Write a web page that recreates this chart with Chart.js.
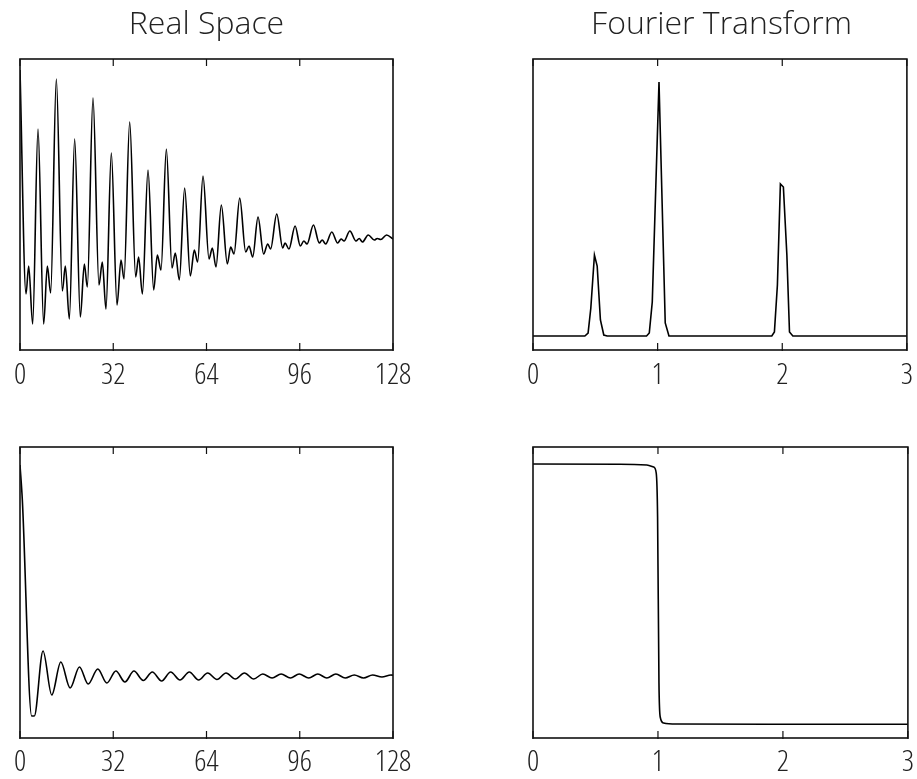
<!DOCTYPE html>
<html>
<head>
<meta charset="utf-8">
<script src="https://cdn.jsdelivr.net/npm/chart.js@4.4.1/dist/chart.umd.min.js"></script>
<style>
  body { margin: 0; background: #fff; width: 917px; height: 779px; overflow: hidden; position: relative; }
  .box { position: absolute; }
</style>
</head>
<body>
<div class="box" style="left:0;top:0;width:458px;height:407px"><canvas id="realTop"></canvas></div>
<div class="box" style="left:458px;top:0;width:462px;height:407px"><canvas id="fourierTop"></canvas></div>
<div class="box" style="left:0;top:400px;width:458px;height:387px"><canvas id="realBottom"></canvas></div>
<div class="box" style="left:458px;top:400px;width:462px;height:387px"><canvas id="fourierBottom"></canvas></div>
<script>
// tick labels
const realTicks = [0, 32, 64, 96, 128];
const fourierTicks = [0, 1, 2, 3];

// top left: decaying signal (arbitrary amplitude)
const realTopX = [0, 2.06, 2.98, 4.35, 6.18, 8.12, 9.38, 10.52, 12.47, 14.53, 15.56, 16.93, 18.76, 20.7, 22.08, 23.1,
  25.05, 27.1, 28.25, 29.5, 31.34, 33.29, 34.66, 35.69, 37.64, 39.7, 40.7, 42.0, 43.93, 45.87, 47.13, 48.39,
  50.22, 52.16, 53.3, 54.67, 56.5, 58.45, 59.82, 60.96, 62.8, 64.86, 66.0, 67.26, 69.09, 71.15, 72.3, 73.44,
  75.4, 77.45, 78.6, 79.85, 81.68, 83.6, 85.0, 86.0, 88.1, 90.15, 90.94, 92.3, 94.4, 96.2, 97.4, 98.5,
  100.7, 102.7, 103.7, 104.9, 107.0, 109.0, 110.2, 111.2, 113.2, 115.3, 116.4, 117.5, 119.5, 121.6, 122.6, 123.8,
  125.8, 128];
const realTopY = [280, 56, 84, 26, 221, 26, 84, 57, 271, 59, 84, 31, 211, 33, 86, 63,
  252, 65, 88, 41, 197, 45, 90, 71, 228, 73, 93, 56, 180, 60, 95, 80,
  201, 82, 97, 70, 162, 74, 100, 88, 174, 91, 102, 83, 145, 86, 103, 96,
  152, 98, 104, 93, 133, 96, 106, 101, 136, 102, 107, 101, 124, 104, 109, 106,
  125, 107, 110, 106, 118, 107, 111, 109, 119, 109, 111.5, 108, 115, 110, 111.5, 110.5,
  115, 111];

// bottom left
const realBottomX = [0, 0.8, 4.0, 4.9, 7.9, 10.9, 14.0, 17.2, 20.4, 23.4, 26.7, 29.8, 32.9, 36.0, 39.1, 42.3,
  45.4, 48.6, 51.7, 54.9, 58.1, 61.3, 64.4, 67.6, 70.7, 73.9, 77.0, 80.2, 83.3, 86.5, 89.6, 92.8,
  95.8, 99.1, 102.2, 105.3, 108.4, 111.6, 114.7, 117.9, 121.0, 124.2, 127.3, 128];
const realBottomY = [273, 238, 22, 22, 87, 43, 76, 50, 71, 54, 69, 55, 67, 56, 67, 57.5,
  66, 57, 66, 58, 66, 58, 65, 58.5, 65, 59, 65, 59, 64, 60, 64, 60,
  64, 60, 64, 60, 64, 60, 63, 60, 63, 61, 63, 62.8];

// top right: spectrum peaks
const fourierTopX = [0, 0.416, 0.442, 0.464, 0.493, 0.515, 0.541, 0.568, 0.595,
  0.911, 0.933, 0.957, 1.011, 1.061, 1.091,
  1.916, 1.937, 1.961, 1.985, 2.009, 2.037, 2.058, 2.085, 3];
const fourierTopY = [14, 14, 17, 42, 95, 84, 30, 15, 14,
  14, 17, 48, 268, 27, 14,
  14, 18, 65, 166, 163, 95, 18, 14, 14];

// bottom right: step
const fourierBottomX = [0, 0.697, 0.911, 0.965, 0.986, 0.997, 1.008, 1.018, 1.045, 1.153, 2.037, 3];
const fourierBottomY = [274, 273.7, 273, 271, 265, 221, 55, 21, 15, 14, 13.7, 13.7];

// thin lettering, the weight string also carries a stretch keyword into ctx.font
const labelFont = { family: "'Open Sans', sans-serif", size: 30, weight: '300 semi-condensed', lineHeight: 1.2 };
const titleFont = { family: "'Open Sans', sans-serif", size: 32, weight: '300', lineHeight: 1.2 };

// box around the plot plus inward tick marks on top and bottom
const framePlugin = {
  id: 'frame',
  afterDatasetsDraw(chart) {
    const a = chart.chartArea;
    const ctx = chart.ctx;
    const xs = chart.scales.x;
    ctx.save();
    ctx.strokeStyle = '#111';
    ctx.lineWidth = 1.6;
    ctx.strokeRect(a.left, a.top, a.right - a.left, a.bottom - a.top);
    ctx.lineWidth = 1.2;
    xs.ticks.forEach(t => {
      const px = xs.getPixelForValue(t.value);
      ctx.beginPath();
      ctx.moveTo(px, a.top);
      ctx.lineTo(px, a.top + 7);
      ctx.moveTo(px, a.bottom + 1);
      ctx.lineTo(px, a.bottom - 7);
      ctx.stroke();
    });
    ctx.restore();
  }
};

function makeChart(id, xVals, yVals, ticks, title, smooth, padding, tickPad) {
  const points = xVals.map((x, i) => ({ x: x, y: yVals[i] }));
  return new Chart(document.getElementById(id), {
    type: 'line',
    data: {
      datasets: [{
        data: points,
        borderColor: '#000',
        borderWidth: 1.6,
        pointRadius: 0,
        fill: false,
        cubicInterpolationMode: smooth ? 'monotone' : 'default',
        tension: 0
      }]
    },
    options: {
      responsive: true,
      maintainAspectRatio: false,
      animation: false,
      layout: { padding: padding },
      plugins: {
        legend: { display: false },
        tooltip: { enabled: false },
        title: {
          display: !!title,
          text: title,
          color: '#222',
          font: titleFont,
          padding: { top: 6, bottom: 14.6 }
        }
      },
      scales: {
        x: {
          type: 'linear',
          min: ticks[0],
          max: ticks[ticks.length - 1],
          afterBuildTicks: s => { s.ticks = ticks.map(v => ({ value: v })); },
          grid: { display: false, drawTicks: false },
          border: { display: false },
          ticks: { color: '#222', font: labelFont, padding: tickPad, maxRotation: 0, autoSkip: false }
        },
        y: { type: 'linear', display: false, min: 0, max: 291 }
      }
    },
    plugins: [framePlugin]
  });
}

makeChart('realTop', realTopX, realTopY, realTicks, 'Real Space', true, { left: 20, right: 65, top: 0, bottom: 7 }, 7);
makeChart('fourierTop', fourierTopX, fourierTopY, fourierTicks, 'Fourier Transform', false, { left: 75, right: 10, top: 0, bottom: 7 }, 7);
makeChart('realBottom', realBottomX, realBottomY, realTicks, '', true, { left: 20, right: 65, top: 47, bottom: 1 }, 6);
makeChart('fourierBottom', fourierBottomX, fourierBottomY, fourierTicks, '', true, { left: 75, right: 10, top: 47, bottom: 1 }, 6);
</script>
</body>
</html>
